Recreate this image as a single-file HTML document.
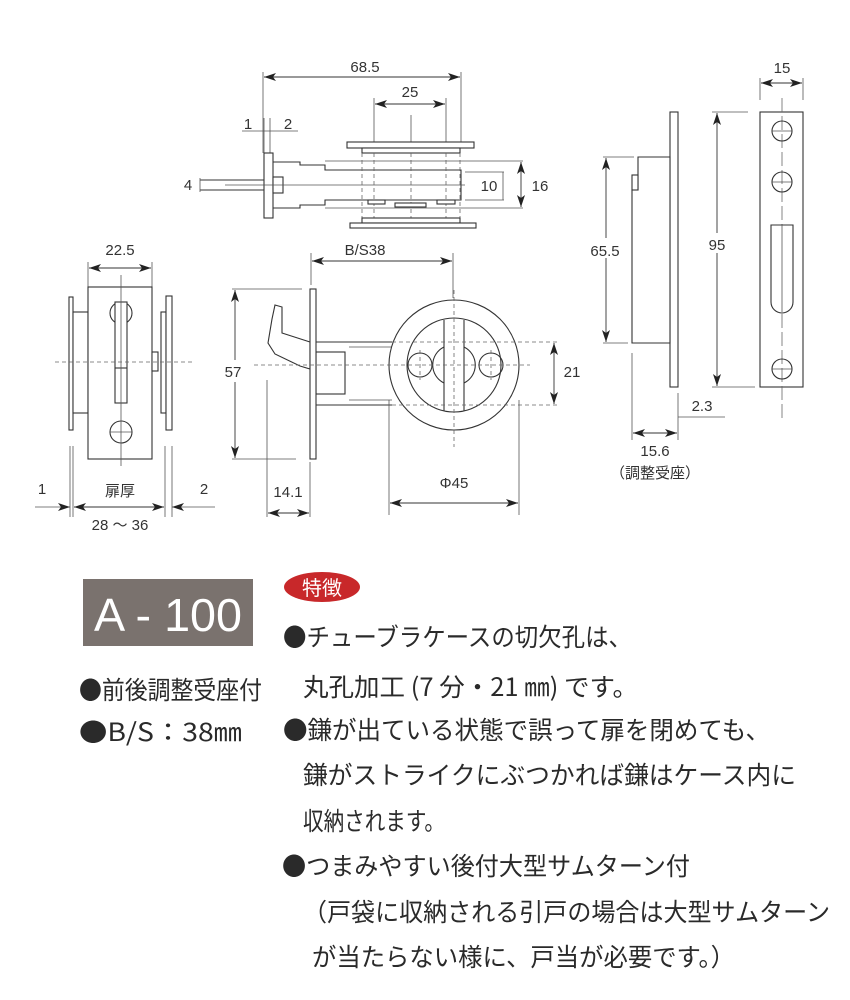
<!DOCTYPE html>
<html><head><meta charset="utf-8"><style>
html,body{margin:0;padding:0;background:#fff;}
svg{display:block;}
.l{stroke:#333;stroke-width:1.1;fill:none;}
.f{stroke:#333;stroke-width:1.1;fill:#fff;}
.t{stroke:#555;stroke-width:0.8;fill:none;}
.d{stroke:#666;stroke-width:0.8;fill:none;stroke-dasharray:4 3;}
.dm{stroke:#333;stroke-width:0.9;fill:none;marker-start:url(#a);marker-end:url(#a);}
.tx{font-family:"Liberation Sans","Noto Sans CJK JP",sans-serif;font-size:15px;fill:#333;text-anchor:middle;}
.jp{font-family:"Noto Sans CJK JP","Liberation Sans",sans-serif;font-size:25px;fill:#2a2a2a;}
</style></head><body>
<svg width="850" height="1000" viewBox="0 0 850 1000" xmlns="http://www.w3.org/2000/svg">
<defs>
<marker id="a" viewBox="0 0 12 8" refX="12" refY="4" markerWidth="12" markerHeight="8" markerUnits="userSpaceOnUse" orient="auto-start-reverse">
<path d="M0,0 L12,4 L0,8 L3,4z" fill="#222"/></marker>
</defs>

<!-- TOP VIEW -->
<line class="t" x1="263" y1="72" x2="263" y2="153"/>
<line class="t" x1="461" y1="72" x2="461" y2="142"/>
<line class="dm" x1="264" y1="77" x2="460" y2="77"/>
<text class="tx" x="365" y="72">68.5</text>
<line class="t" x1="374" y1="98" x2="374" y2="142"/>
<line class="t" x1="446" y1="98" x2="446" y2="142"/>
<line class="dm" x1="375" y1="104" x2="445" y2="104"/>
<text class="tx" x="410" y="97">25</text>
<line class="t" x1="411" y1="115" x2="411" y2="142"/>
<text class="tx" x="248" y="129">1</text>
<text class="tx" x="288" y="129">2</text>
<line class="t" x1="242" y1="131" x2="298" y2="131"/>
<line class="t" x1="264" y1="118" x2="264" y2="153"/>
<line class="t" x1="270" y1="118" x2="270" y2="153"/>
<rect class="f" x="347" y="142" width="127" height="6"/>
<rect class="f" x="362" y="148" width="98" height="5"/>
<line class="t" x1="325" y1="161" x2="523" y2="161"/>
<line class="t" x1="325" y1="208" x2="523" y2="208"/>
<path class="l" d="M273,162 H300 V165 H325 V170 H461 V200 H325 V205 H300 V208 H273"/>
<rect class="f" x="264" y="153" width="9" height="65"/>
<line class="l" x1="200" y1="180" x2="264" y2="180"/>
<line class="l" x1="200" y1="190" x2="264" y2="190"/>
<line class="t" x1="200" y1="178" x2="200" y2="192"/>
<text class="tx" x="188" y="190">4</text>
<rect class="f" x="273" y="177" width="10" height="16"/>
<line class="t" x1="225" y1="185" x2="465" y2="185"/>
<line class="d" x1="362" y1="153" x2="362" y2="218"/>
<line class="d" x1="374" y1="153" x2="374" y2="218"/>
<line class="d" x1="411" y1="153" x2="411" y2="218"/>
<line class="d" x1="446" y1="153" x2="446" y2="218"/>
<line class="d" x1="460" y1="153" x2="460" y2="218"/>
<rect class="f" x="368" y="200" width="17" height="4"/>
<rect class="f" x="395" y="203" width="31" height="4"/>
<rect class="f" x="437" y="200" width="18" height="4"/>
<rect class="f" x="362" y="218" width="98" height="5"/>
<rect class="f" x="350" y="223" width="126" height="5"/>
<line class="t" x1="465" y1="172" x2="504" y2="172"/>
<line class="t" x1="465" y1="200" x2="504" y2="200"/>
<line class="t" x1="503" y1="172" x2="503" y2="200"/>
<text class="tx" x="489" y="191">10</text>
<line class="dm" x1="521" y1="162" x2="521" y2="207"/>
<text class="tx" x="540" y="191">16</text>

<!-- LEFT SIDE VIEW -->
<line class="t" x1="88" y1="262" x2="88" y2="287"/>
<line class="t" x1="152" y1="262" x2="152" y2="287"/>
<line class="dm" x1="89" y1="268" x2="151" y2="268"/>
<text class="tx" x="120" y="255">22.5</text>
<rect class="f" x="69" y="297" width="4" height="133"/>
<rect class="f" x="73" y="312" width="15" height="101"/>
<rect class="f" x="88" y="287" width="64" height="172"/>
<rect class="f" x="152" y="352" width="6" height="19"/>
<rect class="f" x="161" y="312" width="5" height="101"/>
<rect class="f" x="166" y="296" width="6" height="134"/>
<circle class="l" cx="121" cy="313" r="11"/>
<rect class="f" x="115" y="302" width="12" height="101"/>
<line class="l" x1="115" y1="368" x2="127" y2="368"/>
<circle class="l" cx="121" cy="432" r="11"/>
<line class="t" x1="110" y1="432" x2="132" y2="432"/>
<line class="t" x1="121" y1="275" x2="121" y2="466"/>
<line class="d" x1="55" y1="362" x2="195" y2="362"/>
<line class="t" x1="70" y1="446" x2="70" y2="517"/>
<line class="t" x1="73" y1="446" x2="73" y2="517"/>
<line class="t" x1="165" y1="446" x2="165" y2="517"/>
<line class="t" x1="172" y1="446" x2="172" y2="517"/>
<line class="t" x1="35" y1="507" x2="70" y2="507" style="marker-end:url(#a)"/>
<line class="dm" x1="74" y1="507" x2="164" y2="507"/>
<line class="t" x1="215" y1="507" x2="172" y2="507" style="marker-end:url(#a)"/>
<text class="tx" x="42" y="494">1</text>
<text class="tx" x="204" y="494">2</text>
<text class="tx" x="120" y="496">扉厚</text>
<text class="tx" x="120" y="530">28 ～ 36</text>

<!-- MIDDLE VIEW -->
<text class="tx" x="365" y="255">B/S38</text>
<line class="t" x1="311" y1="253" x2="311" y2="285"/>
<line class="t" x1="453" y1="253" x2="453" y2="298"/>
<line class="dm" x1="312" y1="261" x2="452" y2="261"/>
<line class="t" x1="232" y1="289" x2="302" y2="289"/>
<line class="t" x1="232" y1="459" x2="296" y2="459"/>
<line class="dm" x1="235" y1="290" x2="235" y2="458"/>
<rect x="222" y="360" width="24" height="22" fill="#fff"/>
<text class="tx" x="233" y="377">57</text>
<path class="f" d="M275,305 L282,307 L282,333 L310,342 L310,369 L300,366 L275,354 L268,343 L272,319 Z"/>
<line class="l" x1="316" y1="342" x2="392" y2="342"/>
<line class="l" x1="316" y1="405" x2="392" y2="405"/>
<line class="t" x1="349" y1="347" x2="392" y2="347"/>
<line class="t" x1="349" y1="400" x2="392" y2="400"/>
<rect class="f" x="316" y="352" width="29" height="42"/>
<rect class="f" x="310" y="289" width="6" height="170"/>
<circle class="l" cx="454" cy="365" r="65"/>
<circle class="l" cx="454" cy="365" r="47"/>
<path class="l" d="M444,383 A 20 20 0 0 1 444,347"/>
<path class="l" d="M464,347 A 20 20 0 0 1 464,383"/>
<line class="l" x1="444" y1="320" x2="444" y2="411"/>
<line class="l" x1="464" y1="320" x2="464" y2="411"/>
<circle class="l" cx="420" cy="365" r="12"/>
<circle class="l" cx="491" cy="365" r="12"/>
<line class="d" x1="254" y1="365" x2="530" y2="365"/>
<line class="d" x1="454" y1="290" x2="454" y2="447"/>
<line class="d" x1="420" y1="350" x2="420" y2="380"/>
<line class="d" x1="491" y1="350" x2="491" y2="380"/>
<line class="d" x1="392" y1="342" x2="560" y2="342"/>
<line class="d" x1="392" y1="405" x2="560" y2="405"/>
<line class="dm" x1="554" y1="343" x2="554" y2="404"/>
<text class="tx" x="572" y="377">21</text>
<line class="t" x1="267" y1="380" x2="267" y2="517"/>
<line class="t" x1="310" y1="462" x2="310" y2="517"/>
<line class="dm" x1="268" y1="513" x2="309" y2="513"/>
<text class="tx" x="288" y="497">14.1</text>
<line class="t" x1="389" y1="400" x2="389" y2="515"/>
<line class="t" x1="519" y1="400" x2="519" y2="515"/>
<line class="dm" x1="390" y1="503" x2="518" y2="503"/>
<text class="tx" x="454" y="488">Φ45</text>

<!-- RIGHT VIEWS -->
<rect class="f" x="670" y="112" width="8" height="275"/>
<path class="f" d="M638,157 H670 V343 H632 V190 H638 Z"/>
<rect class="f" x="632" y="175" width="6" height="15"/>
<line class="t" x1="603" y1="157" x2="634" y2="157"/>
<line class="t" x1="603" y1="343" x2="628" y2="343"/>
<line class="dm" x1="606" y1="158" x2="606" y2="342"/>
<rect x="586" y="238" width="40" height="20" fill="#fff"/>
<text class="tx" x="605" y="256">65.5</text>
<line class="t" x1="712" y1="112" x2="748" y2="112"/>
<line class="t" x1="712" y1="387" x2="755" y2="387"/>
<line class="dm" x1="717" y1="113" x2="717" y2="386"/>
<rect x="705" y="233" width="24" height="20" fill="#fff"/>
<text class="tx" x="717" y="250">95</text>
<line class="t" x1="632" y1="353" x2="632" y2="440"/>
<line class="t" x1="678" y1="393" x2="678" y2="440"/>
<line class="dm" x1="633" y1="433" x2="677" y2="433"/>
<line class="t" x1="678" y1="417" x2="725" y2="417"/>
<text class="tx" x="702" y="411">2.3</text>
<text class="tx" x="655" y="456">15.6</text>
<text class="tx" x="655" y="478">（調整受座）</text>
<line class="t" x1="760" y1="78" x2="760" y2="100"/>
<line class="t" x1="803" y1="78" x2="803" y2="100"/>
<line class="dm" x1="761" y1="83" x2="802" y2="83"/>
<text class="tx" x="782" y="73">15</text>
<rect class="f" x="760" y="112" width="43" height="275"/>
<line class="d" x1="782" y1="98" x2="782" y2="420" style="stroke-dasharray:14 4"/>
<circle class="l" cx="782" cy="131" r="10"/>
<line class="t" x1="772" y1="131" x2="792" y2="131"/>
<circle class="l" cx="782" cy="182" r="10"/>
<line class="t" x1="772" y1="182" x2="792" y2="182"/>
<circle class="l" cx="782" cy="369" r="10"/>
<line class="t" x1="772" y1="369" x2="792" y2="369"/>
<path class="f" d="M771,225 H793 V302 A11,11 0 0 1 771,302 Z"/>
<line class="t" x1="782" y1="225" x2="782" y2="312"/>

<!-- TEXT SECTION -->
<rect x="83" y="579" width="170" height="67" fill="#7a726e"/>
<text x="168" y="631" text-anchor="middle" style="font-family:'Liberation Sans',sans-serif;font-size:46px;fill:#fff;" textLength="148" lengthAdjust="spacingAndGlyphs">A - 100</text>
<ellipse cx="322" cy="587" rx="38" ry="15" fill="#c8282a"/>
<text x="322" y="595" text-anchor="middle" style="font-family:'Noto Sans CJK JP',sans-serif;font-size:20px;fill:#fff;">特徴</text>

<text class="jp" x="79" y="699" textLength="183" lengthAdjust="spacingAndGlyphs">●前後調整受座付</text>
<text class="jp" x="79" y="741" textLength="163" lengthAdjust="spacingAndGlyphs">●B/S：38㎜</text>

<text class="jp" x="283" y="646" textLength="349" lengthAdjust="spacingAndGlyphs">●チューブラケースの切欠孔は、</text>
<text class="jp" x="303" y="696" textLength="335" lengthAdjust="spacingAndGlyphs">丸孔加工 (7 分・21 ㎜) です。</text>
<text class="jp" x="283" y="739" textLength="487" lengthAdjust="spacingAndGlyphs">●鎌が出ている状態で誤って扉を閉めても、</text>
<text class="jp" x="303" y="784" textLength="493" lengthAdjust="spacingAndGlyphs">鎌がストライクにぶつかれば鎌はケース内に</text>
<text class="jp" x="303" y="830" textLength="142" lengthAdjust="spacingAndGlyphs">収納されます。</text>
<text class="jp" x="282" y="875" textLength="408" lengthAdjust="spacingAndGlyphs">●つまみやすい後付大型サムターン付</text>
<text class="jp" x="303" y="921" textLength="527" lengthAdjust="spacingAndGlyphs">（戸袋に収納される引戸の場合は大型サムターン</text>
<text class="jp" x="312" y="966" textLength="423" lengthAdjust="spacingAndGlyphs">が当たらない様に、戸当が必要です。）</text>
</svg>
</body></html>
